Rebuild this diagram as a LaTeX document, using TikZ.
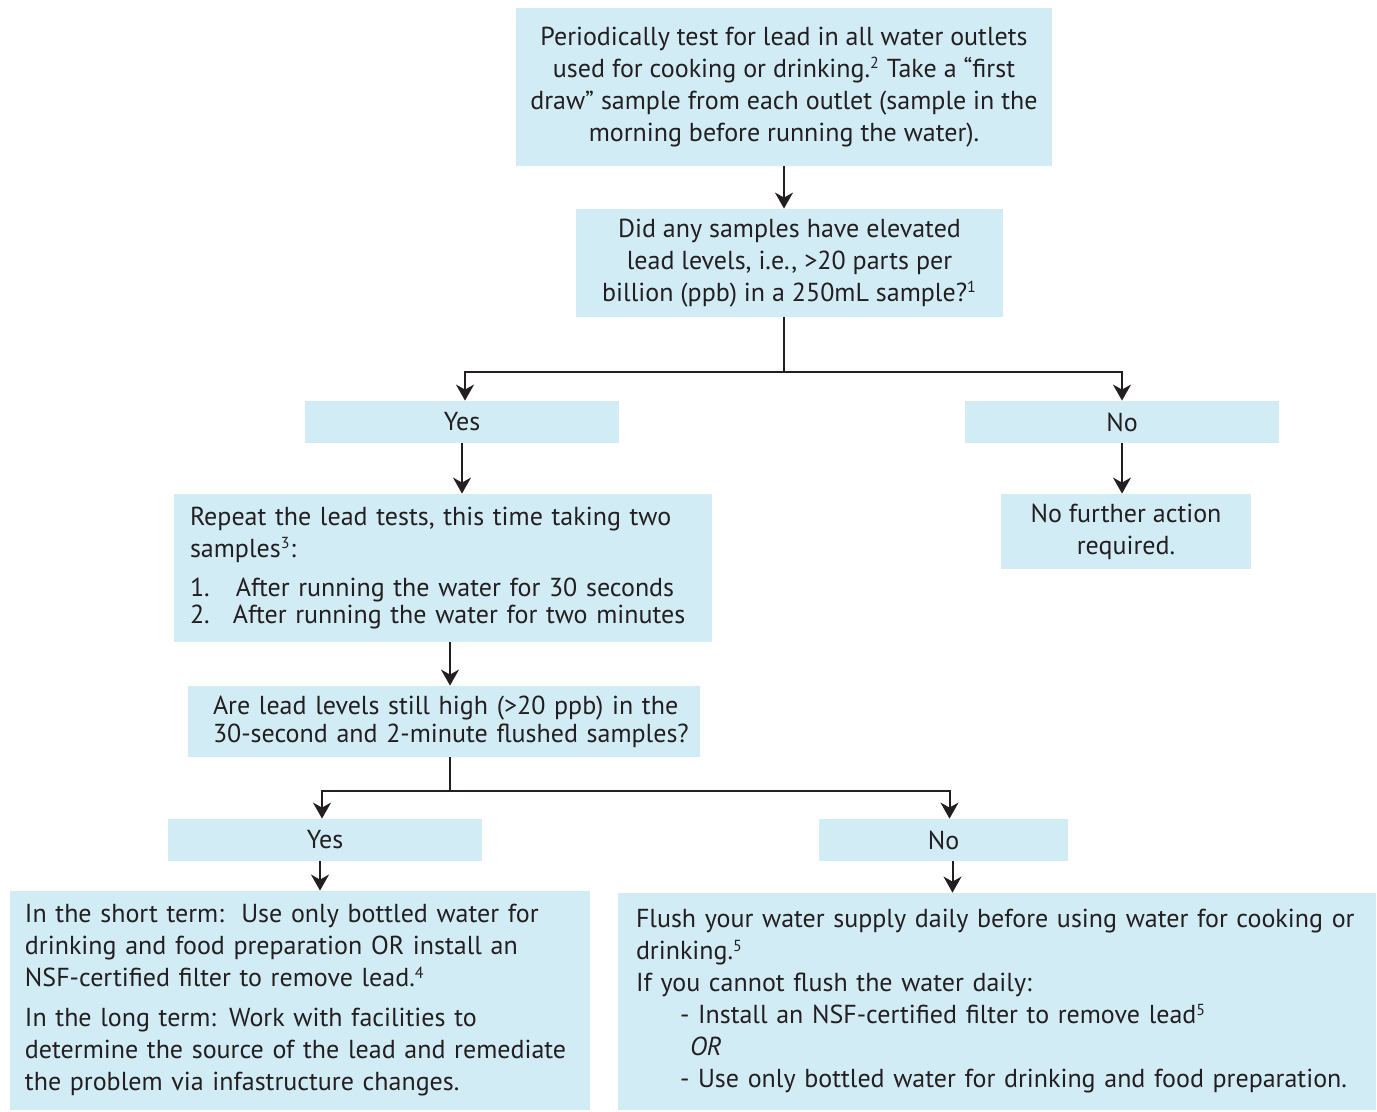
\documentclass[tikz,border=0pt]{standalone}
\usepackage{fontspec}
\setmainfont{PT Sans}
\usetikzlibrary{arrows.meta,calc}
\begin{document}
\begin{tikzpicture}[x=0.5pt,y=-0.5pt,
  box/.style={fill=fillColor,text=textColor,inner sep=0pt,font=\fontsize{13}{16}\selectfont},
  arr/.style={draw=textColor,line width=1pt,-{Stealth[length=8pt,width=9pt,inset=2.5pt]}},
  lin/.style={draw=textColor,line width=1pt}]
\definecolor{fillColor}{RGB}{210,236,246}
\definecolor{textColor}{RGB}{35,31,32}
\newcommand{\fnote}[1]{\textsuperscript{\footnotesize #1}}
\path[use as bounding box,fill=white] (0,0) rectangle (1377,1112);

\node[box,minimum width=268pt,minimum height=79pt,align=center] (top) at (784,87)
  {Periodically test for lead in all water outlets\\
   used for cooking or drinking.\fnote{2} Take a “first\\
   draw” sample from each outlet (sample in the\\
   morning before running the water).};

\node[box,minimum width=213.5pt,minimum height=54pt,align=center] (q1) at (789.5,263)
  {Did any samples have elevated\\
   lead levels, i.e., >20 parts per\\
   billion (ppb) in a 250mL sample?\fnote{1}};

\node[box,minimum width=157pt,minimum height=21pt] (yes1) at (462,422) {Yes};
\node[box,minimum width=157pt,minimum height=21pt] (no1) at (1122,422) {No};

\node[box,text width=253pt,inner xsep=8pt,minimum height=74pt,align=left] (rep) at (443,568)
  {Repeat the lead tests, this time taking two\\
   samples\fnote{3}:\\[3.5pt]
   \makebox[23pt][l]{1.}After running the water for 30 seconds\\[-2.5pt]
   \makebox[21.5pt][l]{2.}After running the water for two minutes};

\node[box,minimum width=125pt,minimum height=37.5pt,align=center] (nf) at (1126,531.5)
  {No further action\\ required.};

\node[box,text width=231pt,inner xsep=12.5pt,minimum height=35.5pt,align=left] (are) at (444,721.5)
  {\mbox{Are lead levels still high (>20 ppb) in the}\\[-2pt]
   \mbox{30-second and 2-minute flushed samples?}};

\node[box,minimum width=157pt,minimum height=21pt] (yes2) at (325,840) {Yes};
\node[box,minimum width=124.5pt,minimum height=21pt] (no2) at (943.5,840) {No};

\node[box,text width=275pt,inner xsep=7.5pt,minimum height=109.5pt,align=left] (bl) at (300,1000.5)
  {In the short term:\ \ Use only bottled water for\\
   drinking and food preparation OR install an\\
   NSF-certified filter to remove lead.\fnote{4}\\[4pt]
   In the long term: Work with facilities to\\
   determine the source of the lead and remediate\\
   the problem via infastructure changes.};

\node[box,text width=361pt,inner xsep=9pt,minimum height=108.5pt,align=left] (br) at (997,1001.5)
  {Flush your water supply daily before using water for cooking or\\
   drinking.\fnote{5}\\
   If you cannot flush the water daily:\\
   \hspace*{22pt}- Install an NSF-certified filter to remove lead\fnote{5}\\
   \hspace*{27pt}\textit{OR}\\
   \hspace*{22pt}- Use only bottled water for drinking and food preparation.};

\coordinate (b1) at (784,372);
\coordinate (b2) at (450,791);

\draw[arr] (top.south -| b1) -- (q1.north -| b1);
\draw[lin] (q1.south -| b1) -- (b1);
\draw[arr] (b1) -| ($(yes1.north)+(3,0)$);
\draw[arr] (b1) -| (no1.north);
\draw[arr] (yes1.south) -- (yes1.south |- rep.north);
\draw[arr] (no1.south) -- (no1.south |- nf.north);
\draw[arr] (rep.south -| b2) -- (are.north -| b2);
\draw[lin] (are.south -| b2) -- (b2);
\draw[arr] (b2) -| ($(yes2.north)+(-3,0)$);
\draw[arr] (b2) -| ($(no2.north)+(6,0)$);
\draw[arr] ($(yes2.south)+(-5,0)$) -- ($(yes2.south |- bl.north)+(-5,0)$);
\draw[arr] ($(no2.south)+(9,0)$) -- ($(no2.south |- br.north)+(9,0)$);
\end{tikzpicture}
\end{document}
